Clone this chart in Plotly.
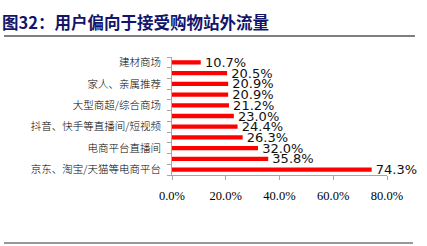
import plotly.graph_objects as go

categories = ["建材商场", "", "家人、亲属推荐", "", "大型商超/综合商场", "",
              "抖音、快手等直播间/短视频", "", "电商平台直播间", "", "京东、淘宝/天猫等电商平台"]
values = [10.7, 20.5, 20.9, 20.9, 21.2, 23.0, 24.4, 26.3, 32.0, 35.8, 74.3]
x_ticks = [0, 20, 40, 60, 80]
x_tick_labels = ["0.0%", "20.0%", "40.0%", "60.0%", "80.0%"]
title_text = "图32：用户偏向于接受购物站外流量"

positions = list(range(len(values)))
label_pos = [p for p, c in zip(positions, categories) if c]
label_txt = [c for c in categories if c]

fig = go.Figure(go.Bar(
    x=values, y=positions, orientation="h",
    marker=dict(color="#FF0000", line=dict(width=0)),
    width=0.4,
    text=[f" {v:.1f}%" for v in values],
    textposition="outside",
    constraintext="none",
    textfont=dict(family="DejaVu Sans", size=13, color="#111111"),
    cliponaxis=False,
))

fig.update_layout(
    width=427, height=246,
    margin=dict(l=172, r=40, t=57, b=71),
    paper_bgcolor="white", plot_bgcolor="white",
    showlegend=False,
    xaxis=dict(range=[0, 80], tickvals=x_ticks, ticktext=x_tick_labels,
               showgrid=False, zeroline=False,
               showline=True, linecolor="#A6A6A6", linewidth=1,
               ticks="outside", ticklen=4, tickcolor="#A6A6A6",
               tickfont=dict(family="Liberation Serif, Times New Roman, serif", size=12.5, color="#000000"),
               ticklabelstandoff=5),
    yaxis=dict(range=[10.5, -0.5], tickvals=label_pos, ticktext=label_txt,
               showgrid=False, zeroline=False,
               showline=True, linecolor="#A6A6A6", linewidth=1,
               ticks="",
               minor=dict(ticks="outside", tick0=0.5, dtick=1, ticklen=4, tickcolor="#A6A6A6"),
               tickfont=dict(family="Noto Sans CJK SC", size=10.5, color="#000000", weight=300),
               ticklabelstandoff=8),
)

fig.add_annotation(text=f"<b>{title_text}</b>", xref="paper", yref="paper",
                   x=-172/215, y=1 + (57 - 22) / 118, xanchor="left", yanchor="middle",
                   showarrow=False,
                   font=dict(family="Noto Sans CJK SC", size=16.5, color="#14146B"))
fig.add_shape(type="line", xref="paper", yref="paper",
              x0=-168/215, x1=(415 - 172) / 215, y0=1 + (57 - 36) / 118, y1=1 + (57 - 36) / 118,
              line=dict(color="#555555", width=1.5))
fig.add_shape(type="line", xref="paper", yref="paper",
              x0=-168/215, x1=(413 - 172) / 215, y0=-(243 - 175) / 118, y1=-(243 - 175) / 118,
              line=dict(color="#333333", width=1.2))

fig.write_html("out.html")
